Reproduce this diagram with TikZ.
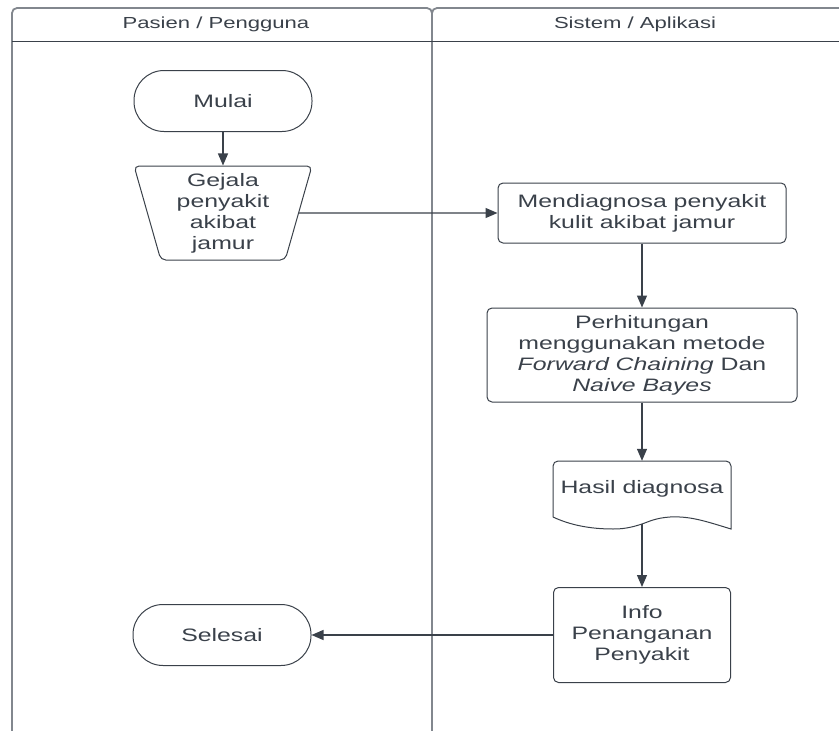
\documentclass[tikz,border=0pt]{standalone}
\usepackage{fontspec}
\setmainfont{Liberation Sans}[FakeStretch=1.38]
\usetikzlibrary{arrows.meta,shapes.geometric}
\definecolor{shapeGrey}{RGB}{58,65,74}
\definecolor{laneGrey}{RGB}{130,135,142}
\newcommand\colorLane{laneGrey}
\newcommand\colorShape{shapeGrey}
\newcommand\colorText{shapeGrey}
\newcommand\laneLeft{12}
\newcommand\laneMid{432}
\newcommand\laneRight{839}
\newcommand\laneTop{-8}
\newcommand\laneHead{-41}
\newcommand\laneBottom{-731}
\newcommand\drawLanes{
	\draw[color=\colorLane, line width=1.8pt, rounded corners=5pt]
		(\laneLeft,\laneBottom) to (\laneLeft,\laneTop) to (\laneMid,\laneTop) to (\laneMid,\laneBottom);
	\draw[color=\colorLane, line width=1.8pt, rounded corners=5pt]
		(\laneMid,\laneBottom) to (\laneMid,\laneTop) to (\laneRight+20,\laneTop);
	\draw[color=\colorShape, line width=1pt] (\laneLeft,\laneHead) to (\laneRight,\laneHead);
}

\begin{document}
\begin{tikzpicture}[x=1pt, y=1pt,
		every node/.style={text=\colorText, font=\fontsize{18}{21}\selectfont, align=center, inner sep=0pt},
		lanehead/.style={font=\fontsize{16}{19}\selectfont},
		terminal/.style={draw=\colorShape, line width=1pt, rounded corners=30pt, minimum width=178pt, minimum height=61pt},
		process/.style={draw=\colorShape, line width=1pt, rounded corners=5pt},
		manualin/.style={draw=\colorShape, line width=1pt, trapezium, shape border rotate=180, trapezium stretches=true,
			trapezium angle=76, minimum width=178pt, minimum height=94pt, rounded corners=5pt},
		flow/.style={draw=\colorShape, line width=1.2pt, -{Triangle[length=12pt, width=10pt]}}
	]
	\useasboundingbox (0,0) rectangle (839,-731);
	\drawLanes

	\node[lanehead] (headPasien) at (216,-24) {Pasien / Pengguna};
	\node[lanehead] (headSistem) at (635,-24) {Sistem / Aplikasi};

	\node[terminal] (mulai) at (223,-101) {Mulai};
	\node[manualin] (gejala) at (223,-213) {Gejala\\penyakit\\akibat\\jamur};
	\node[process, minimum width=288pt, minimum height=60pt] (diagnosa) at (642,-213)
		{Mendiagnosa penyakit\\kulit akibat jamur};
	\node[process, minimum width=310pt, minimum height=94pt] (hitung) at (642,-355)
		{Perhitungan\\menggunakan metode\\\textit{Forward Chaining} Dan\\\textit{Naive Bayes}};
	\node[minimum width=178pt, minimum height=56pt] (hasil) at (642,-489) {Hasil diagnosa};
	\node[process, minimum width=177pt, minimum height=95pt] (info) at (642,-635)
		{Info\\Penanganan\\Penyakit};
	\node[terminal] (selesai) at (222,-635) {Selesai};

	\draw[color=\colorShape, line width=1pt]
		(553,-517) [rounded corners=5pt] to (553,-461) to (731,-461) [sharp corners] to (731,-529)
		.. controls (705,-521) and (690,-516) .. (670,-517)
		.. controls (655,-518) and (648,-522) .. (642,-524)
		.. controls (630,-528) and (622,-529) .. (613,-529)
		.. controls (590,-529) and (570,-525) .. (553,-517);
	\coordinate (hasilEnd) at (642,-524);

	\draw[flow] (mulai) to (gejala);
	\draw[flow] (gejala.east) to (diagnosa.west);
	\draw[flow] (diagnosa) to (hitung);
	\draw[flow] (hitung) to (hasil.north);
	\draw[flow] (hasilEnd) to (info);
	\draw[flow] (info) to (selesai);
\end{tikzpicture}
\end{document}
